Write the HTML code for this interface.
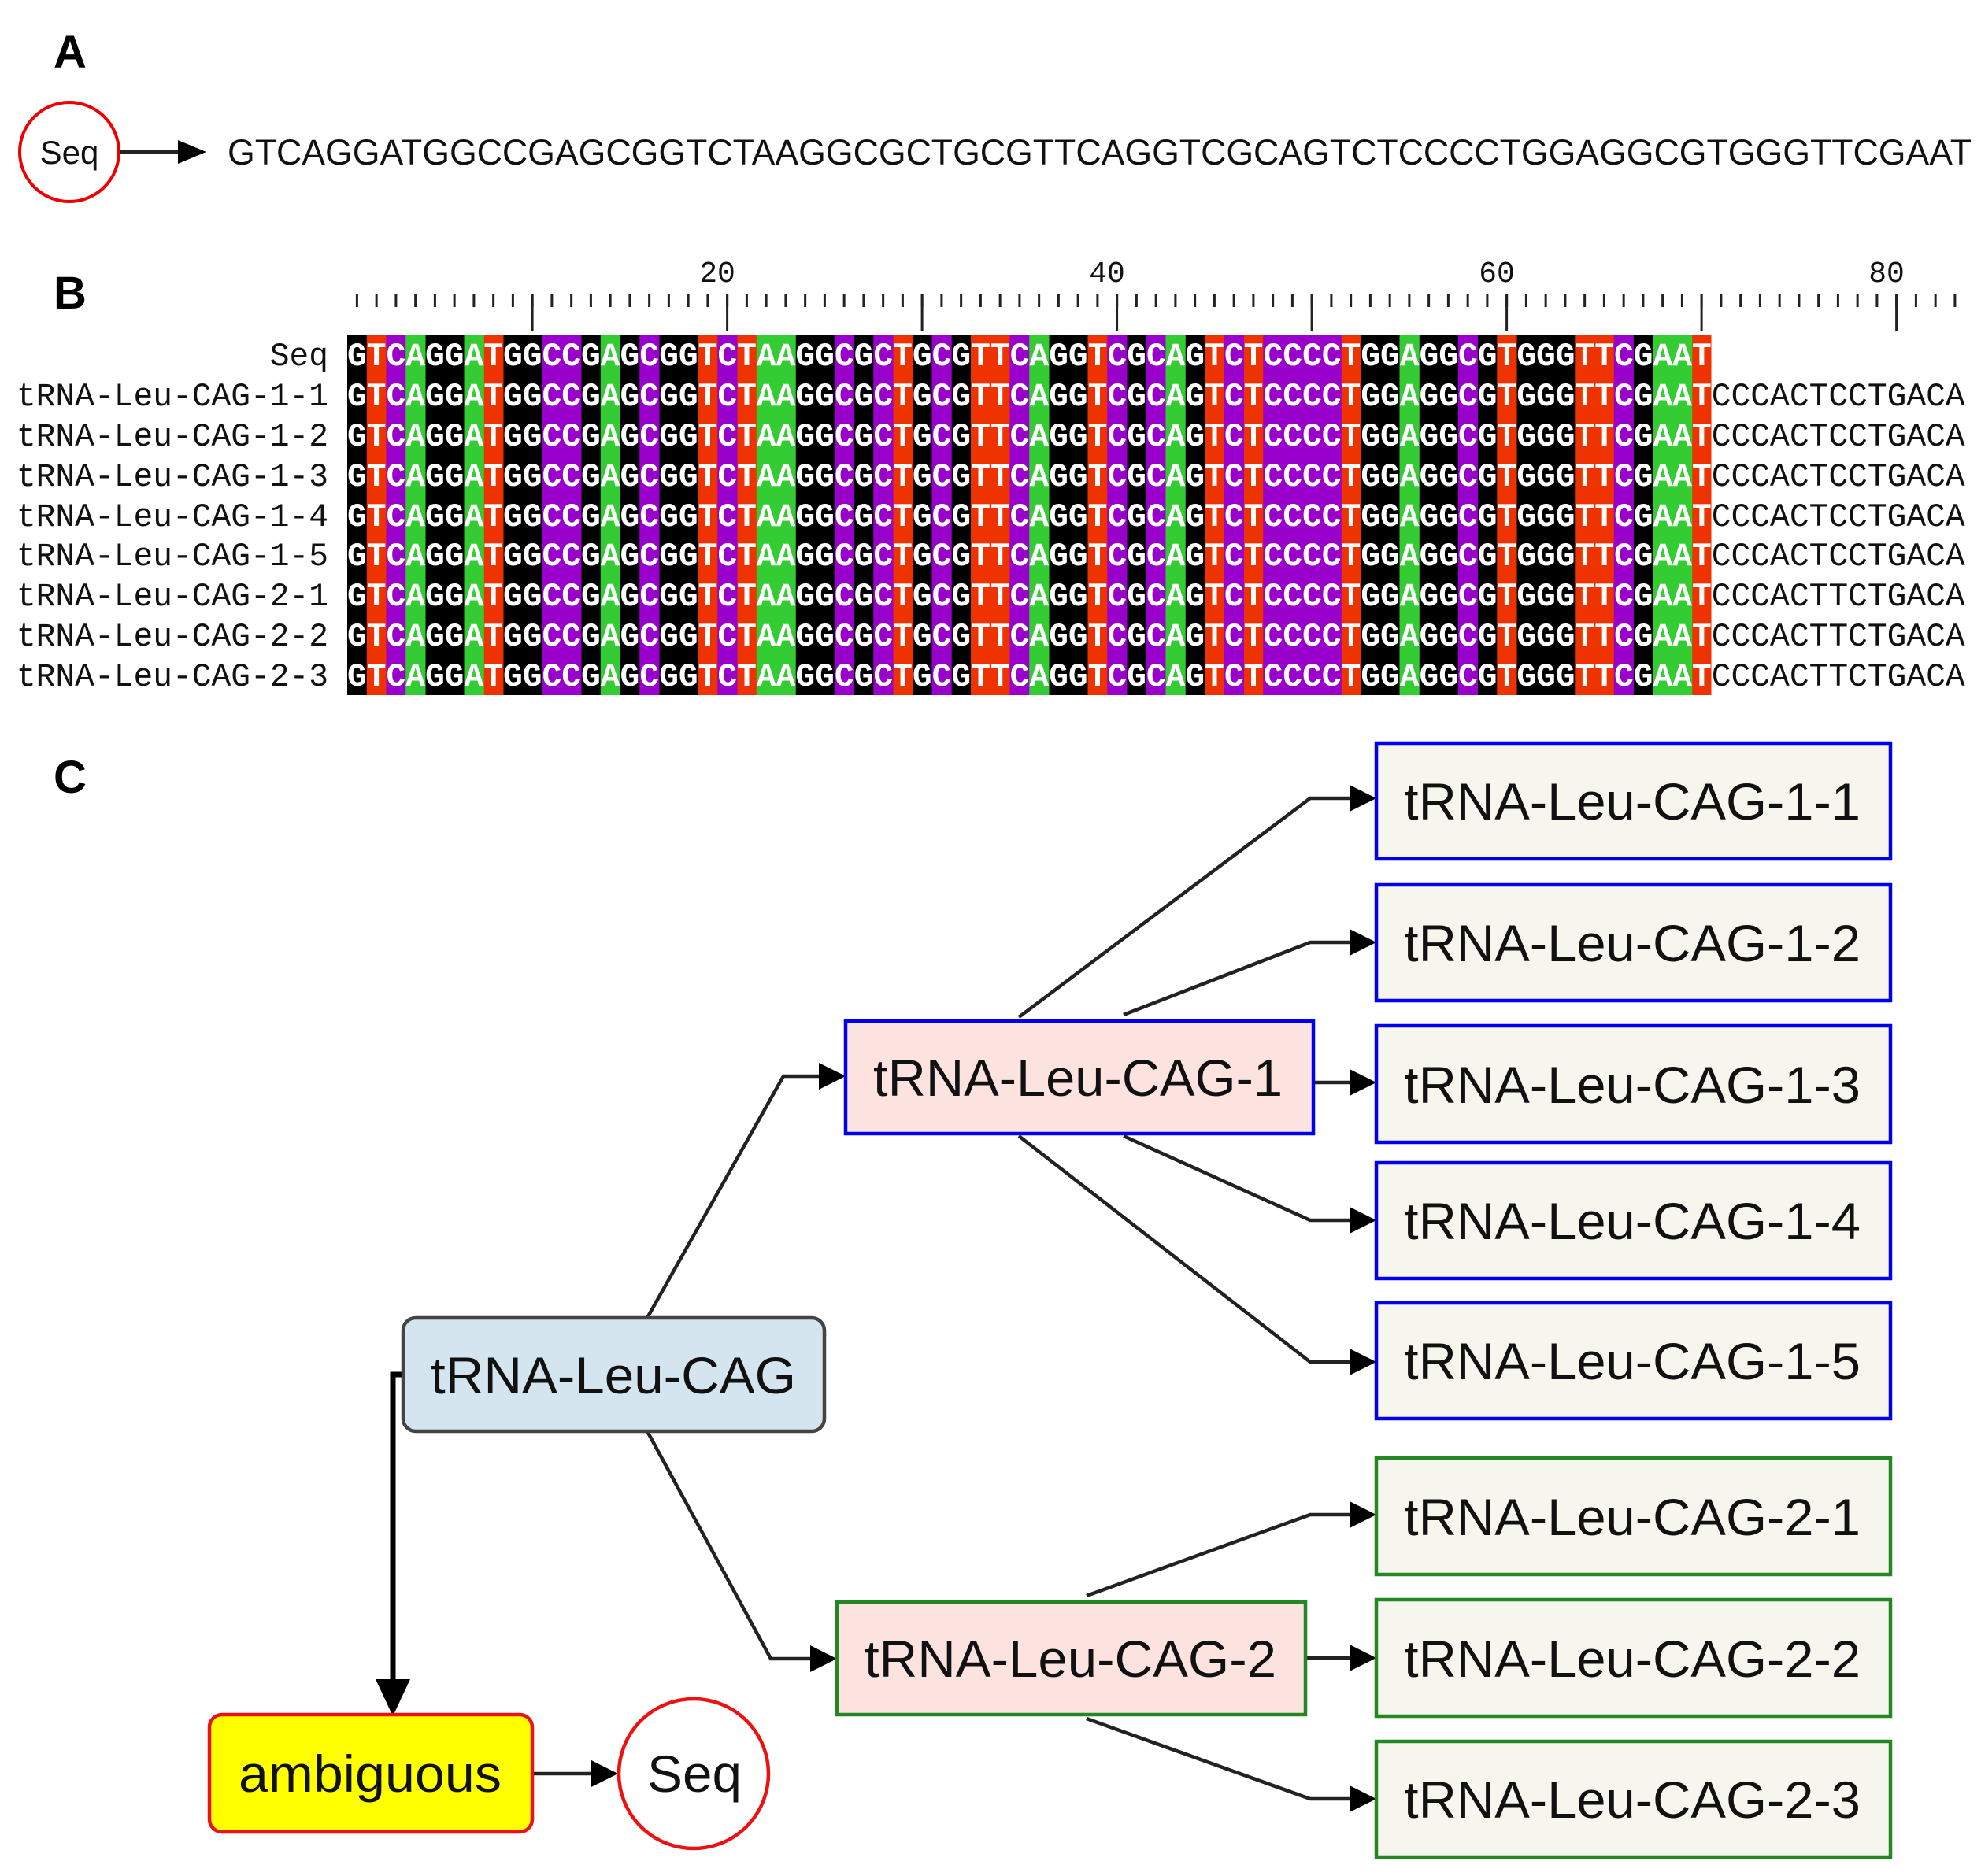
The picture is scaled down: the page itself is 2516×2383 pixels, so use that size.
<!DOCTYPE html>
<html><head><meta charset="utf-8"><style>
html,body{margin:0;padding:0;background:#fff;}
svg{display:block;}
</style></head><body>
<svg width="2516" height="2383" viewBox="0 0 2516 2383" xmlns="http://www.w3.org/2000/svg">
<defs>
<marker id="ah" markerWidth="10" markerHeight="10" refX="9" refY="5" orient="auto" markerUnits="userSpaceOnUse" viewBox="0 0 10 10">
<path d="M0,0 L10,5 L0,10 z" fill="#000"/>
</marker>
</defs>
<rect width="2516" height="2383" fill="#fff"/>
<!-- Panel labels -->
<g font-family="Liberation Sans, sans-serif" font-weight="bold" font-size="58" fill="#000">
<text x="68" y="86">A</text>
<text x="68" y="392">B</text>
<text x="68" y="1007">C</text>
</g>
<!-- Panel A -->
<circle cx="88" cy="193" r="63" fill="#fff" stroke="#e00" stroke-width="4"/>
<text x="88" y="208" font-family="Liberation Sans, sans-serif" font-size="42" text-anchor="middle" fill="#111">Seq</text>
<line x1="153" y1="193" x2="228" y2="193" stroke="#222" stroke-width="4"/>
<path d="M226,178 L262,193 L226,208 z" fill="#000"/>
<text x="289" y="209" font-family="Liberation Sans, sans-serif" font-size="45" fill="#111" textLength="2215" lengthAdjust="spacingAndGlyphs">GTCAGGATGGCCGAGCGGTCTAAGGCGCTGCGTTCAGGTCGCAGTCTCCCCTGGAGGCGTGGGTTCGAAT</text>

<!-- Panel B ruler -->
<g font-family="Liberation Mono, monospace" font-size="38" fill="#111" text-anchor="middle">
<text x="911" y="358">20</text>
<text x="1406" y="358">40</text>
<text x="1901" y="358">60</text>
<text x="2396" y="358">80</text>
</g>
<line x1="451.9" y1="382" x2="2486" y2="382" stroke="#222" stroke-width="16" stroke-dasharray="3 21.75"/>
<g stroke="#222" stroke-width="3">
<line x1="676.1" y1="374" x2="676.1" y2="420"/>
<line x1="923.6" y1="374" x2="923.6" y2="420"/>
<line x1="1171.1" y1="374" x2="1171.1" y2="420"/>
<line x1="1418.6" y1="374" x2="1418.6" y2="420"/>
<line x1="1666.1" y1="374" x2="1666.1" y2="420"/>
<line x1="1913.6" y1="374" x2="1913.6" y2="420"/>
<line x1="2161.1" y1="374" x2="2161.1" y2="420"/>
<line x1="2408.6" y1="374" x2="2408.6" y2="420"/>
</g>
<!-- alignment colored columns -->
<g>
<rect x="441" y="425" width="1732.5" height="458" fill="#000"/>
<g fill="#ee3300">
<rect x="465.75" y="425" width="25.25" height="458"/>
<rect x="614.25" y="425" width="25.25" height="458"/>
<rect x="886.5" y="425" width="25.25" height="458"/>
<rect x="936" y="425" width="25.25" height="458"/>
<rect x="1134" y="425" width="25.25" height="458"/>
<rect x="1233" y="425" width="50" height="458"/>
<rect x="1381.5" y="425" width="25.25" height="458"/>
<rect x="1530" y="425" width="25.25" height="458"/>
<rect x="1579.5" y="425" width="25.25" height="458"/>
<rect x="1703.25" y="425" width="25.25" height="458"/>
<rect x="1901.25" y="425" width="25.25" height="458"/>
<rect x="2000.25" y="425" width="50" height="458"/>
<rect x="2148.75" y="425" width="24.75" height="458"/>
</g>
<g fill="#9900cc">
<rect x="490.5" y="425" width="25.25" height="458"/>
<rect x="688.5" y="425" width="50" height="458"/>
<rect x="812.25" y="425" width="25.25" height="458"/>
<rect x="911.25" y="425" width="25.25" height="458"/>
<rect x="1059.75" y="425" width="25.25" height="458"/>
<rect x="1109.25" y="425" width="25.25" height="458"/>
<rect x="1183.5" y="425" width="25.25" height="458"/>
<rect x="1282.5" y="425" width="25.25" height="458"/>
<rect x="1406.25" y="425" width="25.25" height="458"/>
<rect x="1455.75" y="425" width="25.25" height="458"/>
<rect x="1554.75" y="425" width="25.25" height="458"/>
<rect x="1604.25" y="425" width="99.5" height="458"/>
<rect x="1851.75" y="425" width="25.25" height="458"/>
<rect x="2049.75" y="425" width="25.25" height="458"/>
</g>
<g fill="#33cc33">
<rect x="515.25" y="425" width="25.25" height="458"/>
<rect x="589.5" y="425" width="25.25" height="458"/>
<rect x="762.75" y="425" width="25.25" height="458"/>
<rect x="960.75" y="425" width="50" height="458"/>
<rect x="1307.25" y="425" width="25.25" height="458"/>
<rect x="1480.5" y="425" width="25.25" height="458"/>
<rect x="1777.5" y="425" width="25.25" height="458"/>
<rect x="2099.25" y="425" width="50" height="458"/>
</g>
</g>
<!-- alignment text -->
<g font-family="Liberation Mono, monospace" font-size="41.25" fill="#111">
<g text-anchor="end">
<text x="417" y="464">Seq</text>
<text x="417" y="515">tRNA-Leu-CAG-1-1</text>
<text x="417" y="566">tRNA-Leu-CAG-1-2</text>
<text x="417" y="617">tRNA-Leu-CAG-1-3</text>
<text x="417" y="668">tRNA-Leu-CAG-1-4</text>
<text x="417" y="718">tRNA-Leu-CAG-1-5</text>
<text x="417" y="769">tRNA-Leu-CAG-2-1</text>
<text x="417" y="820">tRNA-Leu-CAG-2-2</text>
<text x="417" y="871">tRNA-Leu-CAG-2-3</text>
</g>
<g font-weight="bold">
<text x="441" y="464"><tspan fill="#fff">GTCAGGATGGCCGAGCGGTCTAAGGCGCTGCGTTCAGGTCGCAGTCTCCCCTGGAGGCGTGGGTTCGAAT</tspan></text>
<text x="441" y="515"><tspan fill="#fff">GTCAGGATGGCCGAGCGGTCTAAGGCGCTGCGTTCAGGTCGCAGTCTCCCCTGGAGGCGTGGGTTCGAAT</tspan><tspan fill="#111" font-weight="normal">CCCACTCCTGACA</tspan></text>
<text x="441" y="566"><tspan fill="#fff">GTCAGGATGGCCGAGCGGTCTAAGGCGCTGCGTTCAGGTCGCAGTCTCCCCTGGAGGCGTGGGTTCGAAT</tspan><tspan fill="#111" font-weight="normal">CCCACTCCTGACA</tspan></text>
<text x="441" y="617"><tspan fill="#fff">GTCAGGATGGCCGAGCGGTCTAAGGCGCTGCGTTCAGGTCGCAGTCTCCCCTGGAGGCGTGGGTTCGAAT</tspan><tspan fill="#111" font-weight="normal">CCCACTCCTGACA</tspan></text>
<text x="441" y="668"><tspan fill="#fff">GTCAGGATGGCCGAGCGGTCTAAGGCGCTGCGTTCAGGTCGCAGTCTCCCCTGGAGGCGTGGGTTCGAAT</tspan><tspan fill="#111" font-weight="normal">CCCACTCCTGACA</tspan></text>
<text x="441" y="718"><tspan fill="#fff">GTCAGGATGGCCGAGCGGTCTAAGGCGCTGCGTTCAGGTCGCAGTCTCCCCTGGAGGCGTGGGTTCGAAT</tspan><tspan fill="#111" font-weight="normal">CCCACTCCTGACA</tspan></text>
<text x="441" y="769"><tspan fill="#fff">GTCAGGATGGCCGAGCGGTCTAAGGCGCTGCGTTCAGGTCGCAGTCTCCCCTGGAGGCGTGGGTTCGAAT</tspan><tspan fill="#111" font-weight="normal">CCCACTTCTGACA</tspan></text>
<text x="441" y="820"><tspan fill="#fff">GTCAGGATGGCCGAGCGGTCTAAGGCGCTGCGTTCAGGTCGCAGTCTCCCCTGGAGGCGTGGGTTCGAAT</tspan><tspan fill="#111" font-weight="normal">CCCACTTCTGACA</tspan></text>
<text x="441" y="871"><tspan fill="#fff">GTCAGGATGGCCGAGCGGTCTAAGGCGCTGCGTTCAGGTCGCAGTCTCCCCTGGAGGCGTGGGTTCGAAT</tspan><tspan fill="#111" font-weight="normal">CCCACTTCTGACA</tspan></text>
</g>
</g>

<!-- Panel C connectors -->
<g fill="none" stroke="#222" stroke-width="4.5" stroke-linejoin="miter">
<polyline points="822,1674 995,1367 1045,1367"/>
<polyline points="822,1818 979,2107 1034,2107"/>
<polyline points="1294,1292 1664,1014 1718,1014"/>
<polyline points="1427,1289 1664,1197 1718,1197"/>
<polyline points="1668,1375 1718,1375"/>
<polyline points="1427,1443 1664,1550 1718,1550"/>
<polyline points="1294,1443 1664,1730 1718,1730"/>
<polyline points="1380,2027 1664,1924 1718,1924"/>
<polyline points="1658,2106 1718,2106"/>
<polyline points="1380,2183 1664,2285 1718,2285"/>
<polyline points="676,2253 755,2253"/>
</g>
<polyline points="512,1746 499,1746 499,2150" fill="none" stroke="#000" stroke-width="7"/>
<g fill="#000">
<path d="M1040,1350 L1074,1367 L1040,1384 z"/>
<path d="M1029,2090 L1063,2107 L1029,2124 z"/>
<path d="M1714,997 L1748,1014 L1714,1031 z"/>
<path d="M1714,1180 L1748,1197 L1714,1214 z"/>
<path d="M1714,1358 L1748,1375 L1714,1392 z"/>
<path d="M1714,1533 L1748,1550 L1714,1567 z"/>
<path d="M1714,1713 L1748,1730 L1714,1747 z"/>
<path d="M1714,1907 L1748,1924 L1714,1941 z"/>
<path d="M1714,2089 L1748,2106 L1714,2123 z"/>
<path d="M1714,2268 L1748,2285 L1714,2302 z"/>
<path d="M751,2236 L785,2253 L751,2270 z"/>
<path d="M477,2133 L521,2133 L499,2180 z"/>
</g>

<!-- Panel C boxes -->
<g font-family="Liberation Sans, sans-serif" font-size="66" fill="#111">
<g stroke="#0000ee" stroke-width="4.5" fill="#f6f6ef">
<rect x="1748" y="944" width="653" height="147"/>
<rect x="1748" y="1124" width="653" height="147"/>
<rect x="1748" y="1303" width="653" height="148"/>
<rect x="1748" y="1477" width="653" height="147"/>
<rect x="1748" y="1655" width="653" height="147"/>
</g>
<g stroke="#228822" stroke-width="4.5" fill="#f6f6ef">
<rect x="1748" y="1852" width="653" height="148"/>
<rect x="1748" y="2032" width="653" height="148"/>
<rect x="1748" y="2212" width="653" height="147"/>
</g>
<rect x="1074" y="1297" width="594" height="143" fill="#fde3e0" stroke="#0000ee" stroke-width="4.5"/>
<rect x="1063" y="2035" width="595" height="143" fill="#fde3e0" stroke="#228822" stroke-width="4.5"/>
<rect x="512" y="1674" width="535" height="144" rx="16" fill="#d5e5ef" stroke="#444" stroke-width="4.5"/>
<rect x="266" y="2178" width="410" height="149" rx="16" fill="#ffff00" stroke="#ee1111" stroke-width="4.5"/>
<circle cx="881" cy="2253" r="95" fill="#fff" stroke="#ee1111" stroke-width="4.5"/>

<text x="1783" y="1041" textLength="580" lengthAdjust="spacingAndGlyphs">tRNA-Leu-CAG-1-1</text>
<text x="1783" y="1221" textLength="580" lengthAdjust="spacingAndGlyphs">tRNA-Leu-CAG-1-2</text>
<text x="1783" y="1401" textLength="580" lengthAdjust="spacingAndGlyphs">tRNA-Leu-CAG-1-3</text>
<text x="1783" y="1574" textLength="580" lengthAdjust="spacingAndGlyphs">tRNA-Leu-CAG-1-4</text>
<text x="1783" y="1752" textLength="580" lengthAdjust="spacingAndGlyphs">tRNA-Leu-CAG-1-5</text>
<text x="1783" y="1950" textLength="580" lengthAdjust="spacingAndGlyphs">tRNA-Leu-CAG-2-1</text>
<text x="1783" y="2130" textLength="580" lengthAdjust="spacingAndGlyphs">tRNA-Leu-CAG-2-2</text>
<text x="1783" y="2309" textLength="580" lengthAdjust="spacingAndGlyphs">tRNA-Leu-CAG-2-3</text>
<text x="1109" y="1392" textLength="520" lengthAdjust="spacingAndGlyphs">tRNA-Leu-CAG-1</text>
<text x="1098" y="2130" textLength="523" lengthAdjust="spacingAndGlyphs">tRNA-Leu-CAG-2</text>
<text x="547" y="1770" textLength="464" lengthAdjust="spacingAndGlyphs">tRNA-Leu-CAG</text>
<text x="303" y="2276" textLength="334" lengthAdjust="spacingAndGlyphs">ambiguous</text>
<text x="822" y="2276" textLength="120" lengthAdjust="spacingAndGlyphs">Seq</text>
</g>
</svg>
</body></html>
